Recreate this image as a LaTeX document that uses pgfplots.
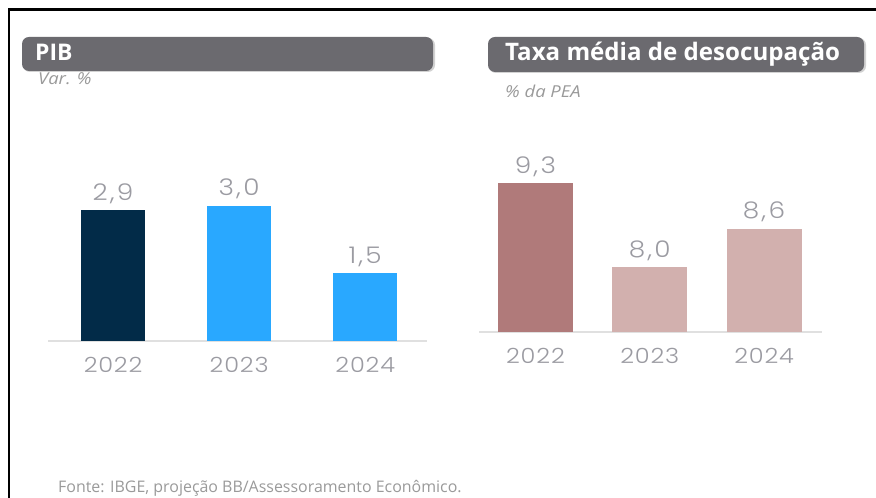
\documentclass[border=0pt]{standalone}
\usepackage{pgfplots}
\pgfplotsset{compat=1.18}
\usepackage{fontspec}
\setmainfont{Open Sans}
\newfontfamily\numfont{Poppins}[UprightFont=* Light, FakeStretch=1.15, LetterSpace=4]
\newfontfamily\valfont{Poppins}[UprightFont=* Light, FakeStretch=1.15, LetterSpace=10]
\newfontfamily\subfont{Open Sans}[FakeStretch=1.12]
\definecolor{navy}{HTML}{022B48}
\definecolor{skyb}{HTML}{29A8FF}
\definecolor{rose1}{HTML}{B07A7A}
\definecolor{rose2}{HTML}{D2B0AE}
\definecolor{boxgray}{HTML}{6B6A6F}
\definecolor{lbl}{HTML}{9B9BA2}
\definecolor{srcgray}{HTML}{9A9A9A}
\begin{document}
\begin{tikzpicture}
\begin{scope}[x=1bp,y=1bp]
\useasboundingbox (0,0) rectangle (876,498);
\fill[white] (0,0) rectangle (876,498);
\draw[black, line width=2.5bp] (9,0) -- (9,488.5) -- (876,488.5);
% title boxes
\fill[gray!35, rounded corners=7bp] (23,426) rectangle (435,460);
\fill[boxgray, rounded corners=7bp] (22,427) rectangle (433,461);
\fill[gray!35, rounded corners=7bp] (489,425) rectangle (866,460);
\fill[boxgray, rounded corners=7bp] (488,426) rectangle (864,461);
\node[anchor=base west, text=white, inner sep=0pt, font=\bfseries\fontsize{23}{23}\selectfont] at (35,437) {PIB};
\node[anchor=base west, text=white, inner sep=0pt, font=\bfseries\fontsize{24.2}{24.2}\selectfont] at (505,437) {Taxa média de desocupação};
\node[anchor=base west, text=srcgray, inner sep=0pt, font=\subfont\itshape\fontsize{16.5}{16.5}\selectfont] at (38,413) {Var. \%};
\node[anchor=base west, text=srcgray, inner sep=0pt, font=\subfont\itshape\fontsize{16.5}{16.5}\selectfont] at (505,400) {\% da PEA};
\node[anchor=base west, text=srcgray, inner sep=0pt, font=\fontsize{16}{16}\selectfont] at (58,5) {Fonte: IBGE, projeção BB/Assessoramento Econômico.};
\end{scope}
\pgfplotsset{
  mybars/.style={
    scale only axis,
    axis x line*=bottom,
    axis y line=none,
    axis line style={draw=black!12, line width=1.5bp},
    major tick length=0pt,
    xtick={0,1,2},
    xticklabels={2022,2023,2024},
    xticklabel style={font=\numfont\fontsize{21}{21}\selectfont, text=lbl, anchor=base, yshift=-32bp},
    nodes near coords,
    every node near coord/.append style={font=\valfont\fontsize{23}{23}\selectfont, text=lbl, anchor=base, yshift=10bp},
    /pgf/number format/.cd, use comma, fixed, fixed zerofill, precision=1, assume math mode=true,
  }
}
\begin{axis}[mybars, at={(48bp,157bp)}, anchor=south west, width=379bp, height=160bp,
  xmin=-0.516, xmax=2.49, ymin=0, ymax=3.5556]
\addplot[ybar, bar width=64bp, fill=navy, draw=none] coordinates {(0,2.9)};
\addplot[ybar, bar width=64bp, fill=skyb, draw=none] coordinates {(1,3.0)};
\addplot[ybar, bar width=64bp, fill=skyb, draw=none] coordinates {(2,1.5)};
\end{axis}
\begin{axis}[mybars, at={(479bp,166bp)}, anchor=south west, width=343bp, height=170bp,
  xmin=-0.494, xmax=2.507, ymin=7, ymax=9.6316]
\addplot[ybar, bar width=75bp, fill=rose1, draw=none] coordinates {(0,9.3)};
\addplot[ybar, bar width=75bp, fill=rose2, draw=none] coordinates {(1,8.0)};
\addplot[ybar, bar width=75bp, fill=rose2, draw=none] coordinates {(2,8.6)};
\end{axis}
\end{tikzpicture}
\end{document}
